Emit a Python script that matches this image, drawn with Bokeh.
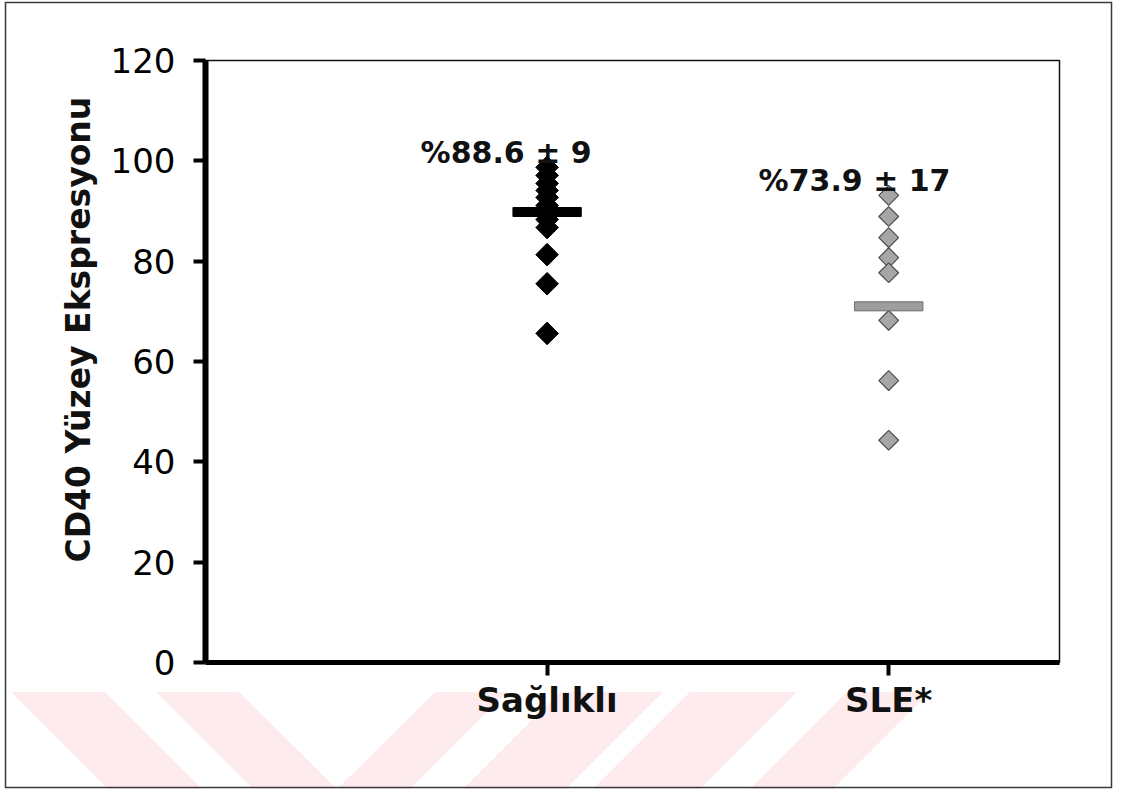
import math
from urllib.parse import quote
from bokeh.plotting import figure
from bokeh.models import Range1d, FixedTicker, Title
from bokeh.embed import file_html
from bokeh.resources import INLINE
from bokeh.core.properties import value

# ---------------- data ----------------
categories = ["Sağlıklı", "SLE*"]
healthy = [98.7, 97.1, 95.5, 94.1, 92.7, 91.1, 89.7, 88.3, 86.7, 81.3, 75.5, 65.6]
sle = [93.1, 88.9, 84.7, 80.7, 77.7, 68.2, 56.2, 44.3]
mean_lines = [89.8, 71.0]
summary_text = ["%88.6 ± 9", "%73.9 ± 17"]
summary_y = [101.7, 96.1]
y_ticks = [0, 20, 40, 60, 80, 100, 120]
y_title = "CD40 Yüzey Ekspresyonu"

FONT = "DejaVu Sans"
W, H = 1113, 789

# ---------------- page decoration (watermark stripes + outer frame) ----------------
stripes = [
    [(11, 692), (105, 692), (213, 800), (119, 800)],
    [(156, 692), (239, 692), (337, 789), (435, 692), (507, 692), (399, 800), (264, 800)],
    [(560, 692), (663, 692), (555, 800), (452, 800)],
    [(690, 692), (797, 692), (689, 800), (582, 800)],
    [(847, 692), (930, 692), (822, 800), (739, 800)],
]
svg = [f"<svg xmlns='http://www.w3.org/2000/svg' width='{W}' height='{H}'>"]
for poly in stripes:
    pts = " ".join(f"{a},{b}" for a, b in poly)
    svg.append(f"<polygon points='{pts}' fill='#fdebee'/>")
svg.append(f"<rect x='5.5' y='2.5' width='{W - 7}' height='{H - 4}' fill='none' "
           f"stroke='#3a3a3a' stroke-width='1.5'/>")
svg.append("</svg>")
bg_uri = "data:image/svg+xml," + quote("".join(svg))

p = figure(width=W, height=H, output_backend="svg", toolbar_location=None,
           x_range=Range1d(0, 2.5), y_range=Range1d(0, 120),
           min_border_left=205, min_border_right=W - 1059,
           min_border_top=60, min_border_bottom=H - 662)
p.styles = {"background-color": "white",
            "background-image": f'url("{bg_uri}")',
            "background-repeat": "no-repeat",
            "background-size": f"{W}px {H}px"}
p.xgrid.visible = False
p.ygrid.visible = False
p.outline_line_color = "#111111"
p.outline_line_width = 1.5
p.background_fill_color = "white"
p.border_fill_color = None

xpos = [i + 1 for i in range(len(categories))]

# ---------------- axes ----------------
yax = p.yaxis[0]
yax.ticker = FixedTicker(ticks=y_ticks)
yax.axis_line_width = 6
yax.axis_line_color = "black"
yax.major_tick_line_width = 4
yax.major_tick_out = 12
yax.major_tick_in = 0
yax.minor_tick_line_color = None
yax.major_label_text_font = FONT
yax.major_label_text_font_size = "34px"
yax.major_label_text_color = "black"
yax.major_label_standoff = 18

xax = p.xaxis[0]
xax.ticker = FixedTicker(ticks=xpos)
xax.major_label_overrides = {x: c for x, c in zip(xpos, categories)}
xax.axis_line_width = 5
xax.axis_line_color = "black"
xax.major_tick_line_width = 4
xax.major_tick_out = 13
xax.major_tick_in = 0
xax.minor_tick_line_color = None
xax.major_label_text_font = FONT
xax.major_label_text_font_style = "bold"
xax.major_label_text_font_size = "34px"
xax.major_label_text_color = "#111111"
xax.major_label_standoff = 4

ytitle = Title(text=y_title, align="left", offset=100, text_font=FONT,
               text_font_style="bold", text_font_size="33px", text_color="#111111")
if "standoff" in Title.properties():
    ytitle.standoff = 19
p.add_layout(ytitle, "left")

# ---------------- marks ----------------
p.scatter(x=[xpos[0]] * len(healthy), y=healthy, marker="square", angle=math.pi / 4,
          size=16, fill_color="black", line_color="black", line_width=1)
p.scatter(x=[xpos[1]] * len(sle), y=sle, marker="square", angle=math.pi / 4,
          size=14, fill_color="#a6a6a6", line_color="#4d4d4d", line_width=1.2)

p.rect(x=xpos, y=mean_lines, width=0.2, height=9, height_units="screen",
       fill_color=["black", "#9e9e9e"], line_color=["black", "#6b6b6b"], line_width=1)

p.text(x=[xpos[0] - 0.12, xpos[1] - 0.1], y=summary_y, text=summary_text,
       text_font=value(FONT), text_font_style="bold", text_font_size="30px",
       text_color="#111111", text_align="center", text_baseline="alphabetic")

open("out.html", "w").write(file_html(p, INLINE))
